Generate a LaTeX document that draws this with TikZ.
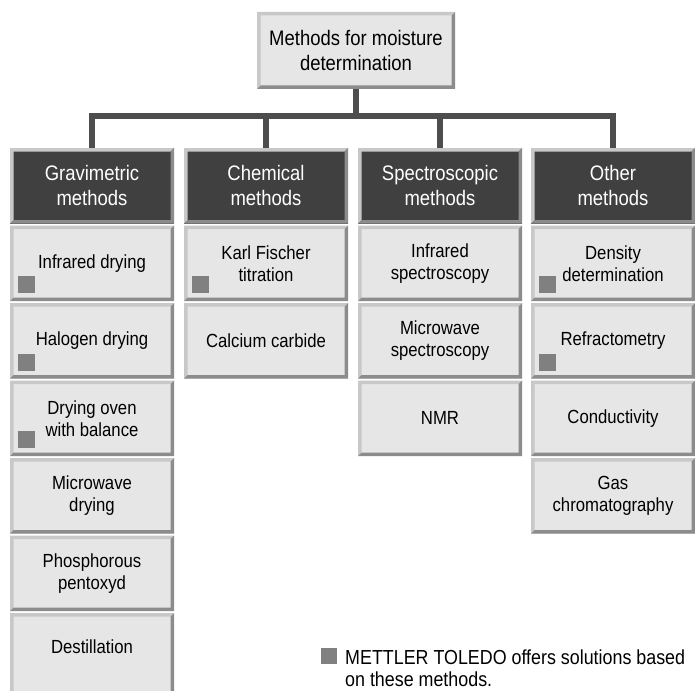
\documentclass[tikz,border=0pt]{standalone}
\usepackage{fontspec}
\setmainfont{Liberation Sans}[FakeStretch=0.88]
\definecolor{itemfill}{HTML}{E6E6E6}
\definecolor{headfill}{HTML}{404040}
\definecolor{bevlight}{HTML}{C8C8C8}
\definecolor{bevdark}{HTML}{8C8C8C}
\definecolor{conncol}{HTML}{4D4D4D}
\definecolor{markcol}{HTML}{808080}
\tikzset{
  bevelbox/.style={draw=none, inner sep=0pt, outer sep=0pt, anchor=north west,
    minimum width=164pt, minimum height=75.5pt, align=center,
    path picture={
      \fill[bevlight] (path picture bounding box.south west)
        -- (path picture bounding box.north west)
        -- (path picture bounding box.north east)
        -- ([shift={(-3.5,-3.5)}]path picture bounding box.north east)
        -- ([shift={(3.5,-3.5)}]path picture bounding box.north west)
        -- ([shift={(3.5,3.5)}]path picture bounding box.south west) -- cycle;
      \fill[bevdark] (path picture bounding box.south west)
        -- (path picture bounding box.south east)
        -- (path picture bounding box.north east)
        -- ([shift={(-3.5,-3.5)}]path picture bounding box.north east)
        -- ([shift={(-3.5,3.5)}]path picture bounding box.south east)
        -- ([shift={(3.5,3.5)}]path picture bounding box.south west) -- cycle;
    }},
  itembox/.style={bevelbox, fill=itemfill, text=black, font=\fontsize{19}{22}\selectfont},
  headbox/.style={bevelbox, fill=headfill, text=white, font=\fontsize{21}{25}\selectfont},
  titlebox/.style={bevelbox, fill=itemfill, text=black, font=\fontsize{21}{25}\selectfont,
    minimum width=198pt, minimum height=77pt},
  marker/.style={draw=none, fill=markcol, minimum size=17pt, inner sep=0pt, outer sep=0pt, anchor=south west},
  conn/.style={draw=conncol, line width=5.5pt, line join=miter},
  legtext/.style={anchor=base west, inner sep=0pt, font=\fontsize{20.3}{25}\selectfont, text=black}
}
\begin{document}
\begin{tikzpicture}[x=1pt,y=1pt]
\useasboundingbox (0,0) rectangle (695,-690);
\fill[white] (0,0) rectangle (695,-690);

% title
\node[titlebox] (title) at (257,-12) {Methods for moisture\\determination};

% headers
\node[headbox] (h1) at (10,-148) {Gravimetric\\methods};
\node[headbox] (h2) at (184,-148) {Chemical\\methods};
\node[headbox] (h3) at (358,-148) {Spectroscopic\\methods};
\node[headbox] (h4) at (531,-148) {Other\\methods};

% connectors
\coordinate (bar) at (0,-116);
\draw[conn] (title.south) -- (title.south |- bar);
\draw[conn] (h1.north) -- (h1.north |- bar) -- (h4.north |- bar) -- (h4.north);
\draw[conn] (h2.north) -- (h2.north |- bar);
\draw[conn] (h3.north) -- (h3.north |- bar);

% column 1
\node[itembox] (a1) at (10,-225.5) {Infrared drying};
\node[itembox] (a2) at (10,-303) {Halogen drying};
\node[itembox] (a3) at (10,-380.5) {Drying oven\\with balance};
\node[itembox] (a4) at (10,-458) {Microwave\\drying};
\node[itembox] (a5) at (10,-535.5) {Phosphorous\\pentoxyd};
\node[itembox, minimum height=85pt, text depth=18pt] (a6) at (10,-613) {Destillation};

% column 2
\node[itembox] (b1) at (184,-225.5) {Karl Fischer\\titration};
\node[itembox] (b2) at (184,-303) {Calcium carbide};

% column 3
\node[itembox] (c1) at (358,-225.5) {Infrared\\spectroscopy};
\node[itembox] (c2) at (358,-303) {Microwave\\spectroscopy};
\node[itembox] (c3) at (358,-380.5) {NMR};

% column 4
\node[itembox] (d1) at (531,-225.5) {Density\\determination};
\node[itembox] (d2) at (531,-303) {Refractometry};
\node[itembox] (d3) at (531,-380.5) {Conductivity};
\node[itembox] (d4) at (531,-458) {Gas\\chromatography};

% markers
\node[marker] (ma1) at ([shift={(8,8)}]a1.south west) {};
\node[marker] (ma2) at ([shift={(8,8)}]a2.south west) {};
\node[marker] (ma3) at ([shift={(8,8)}]a3.south west) {};
\node[marker] (mb1) at ([shift={(8,8)}]b1.south west) {};
\node[marker] (md1) at ([shift={(8,8)}]d1.south west) {};
\node[marker] (md2) at ([shift={(8,8)}]d2.south west) {};

% legend
\node[marker, anchor=north west, minimum size=16pt] (lm) at (321,-648) {};
\node[legtext] (lt1) at (345,-664) {METTLER TOLEDO offers solutions based};
\node[legtext] (lt2) at (345,-686) {on these methods.};
\end{tikzpicture}
\end{document}
